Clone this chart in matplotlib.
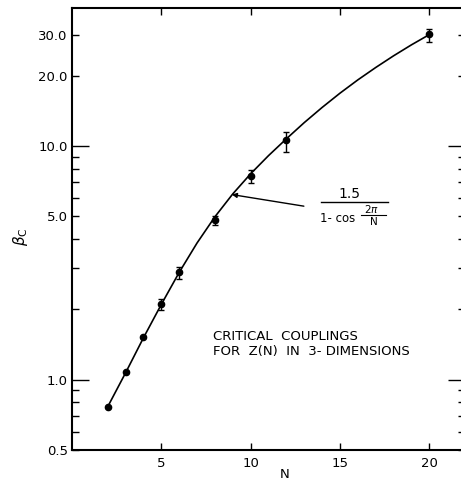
import numpy as np
import matplotlib
matplotlib.use("Agg")
import matplotlib.pyplot as plt
from matplotlib.lines import Line2D
from matplotlib.ticker import FixedLocator, FuncFormatter

plt.rcParams['font.family'] = ['DejaVu Sans']
plt.rcParams['mathtext.fontset'] = 'dejavusans'

# Data points
N_pts = [2, 3, 4, 5, 6, 8, 10, 12, 20]
beta_c = [0.766, 1.075, 1.53, 2.10, 2.88, 4.81, 7.43, 10.6, 30.2]
err_lo = [0, 0, 0, 0.11, 0.17, 0.23, 0.45, 1.15, 2.2]
err_hi = [0, 0, 0, 0.12, 0.17, 0.19, 0.46, 0.9, 1.6]

# Drawn curve (1.5 / (1 - cos 2pi/N))
curve_N = [2, 3, 4, 5, 6, 7, 8, 9, 10, 11, 12, 13, 14, 15, 16, 17, 18, 19, 20]
curve_v = [0.766, 1.070, 1.511, 2.100, 2.879, 3.847, 4.98, 6.24, 7.61, 9.10,
           10.74, 12.6, 14.63, 16.84, 19.2, 21.69, 24.34, 27.12, 30.0]

x_ticks = [5, 10, 15, 20]
y_major = [1, 10]
y_minor = [0.5, 0.6, 0.7, 0.8, 0.9, 2, 3, 4, 5, 6, 7, 8, 9, 20, 30]
y_labelled = [0.5, 1, 5, 10, 20, 30]

W, H = 461, 483
fig = plt.figure(figsize=(W / 100, H / 100), dpi=100)
ax = fig.add_axes([72 / W, 33 / H, 393 / W, 442 / H])

ax.plot(curve_N, curve_v, color='black', lw=1.2, solid_joinstyle='round')
ax.errorbar(N_pts, beta_c, yerr=[err_lo, err_hi], fmt='o', color='black',
            ms=4.5, capsize=2.5, elinewidth=1.0, capthick=1.0)

ax.set_yscale('log')
ax.set_xlim(0, 22)
ax.set_ylim(0.5, 39)

ax.xaxis.set_major_locator(FixedLocator(x_ticks))
ax.yaxis.set_major_locator(FixedLocator(y_major))
ax.yaxis.set_minor_locator(FixedLocator(y_minor))

def fmt(v, pos):
    for t in y_labelled:
        if abs(v - t) < 1e-6 * t:
            return f"{v:.1f}"
    return ""

ax.yaxis.set_major_formatter(FuncFormatter(fmt))
ax.yaxis.set_minor_formatter(FuncFormatter(fmt))
ax.xaxis.set_major_formatter(FuncFormatter(lambda v, p: f"{int(v)}"))

ax.tick_params(axis='both', which='both', direction='in', top=True, right=True,
               labelsize=9.5, width=1.0, color='black')
ax.tick_params(axis='y', which='major', length=12, pad=3)
ax.tick_params(axis='y', which='minor', length=5, pad=3)
ax.tick_params(axis='x', which='major', length=5, pad=5)
ax.tick_params(axis='x', which='minor', length=0)

for s in ax.spines.values():
    s.set_linewidth(1.5)

def px(x, y):
    return x / W, 1 - y / H

fig.text(*px(285, 475), 'N', fontsize=9.5, ha='center', va='center')
fig.text(*px(20, 237), r'$\beta_{\mathrm{C}}$', rotation=90,
         fontsize=11, ha='center', va='center')

ax.annotate('', xy=(8.95, 6.2), xytext=(12.98, 5.53),
            arrowprops=dict(arrowstyle='-|>', color='black', lw=1.0,
                            mutation_scale=7, shrinkA=0, shrinkB=0))

# formula 1.5 / (1 - cos 2pi/N)
fig.text(*px(349, 194), '1.5', fontsize=10, ha='center', va='center')
fig.add_artist(Line2D([321 / W, 388 / W], [1 - 202 / H, 1 - 202 / H],
                      color='black', lw=1.0))
fig.text(*px(320, 218), '1- cos', fontsize=8.5, ha='left', va='center')
fig.text(*px(371, 209), r'$2\pi$', fontsize=7.5, ha='center', va='center')
fig.add_artist(Line2D([361 / W, 386 / W], [1 - 215 / H, 1 - 215 / H],
                      color='black', lw=0.8))
fig.text(*px(374, 222), 'N', fontsize=7.5, ha='center', va='center')

fig.text(*px(213, 336), 'CRITICAL  COUPLINGS', fontsize=9.5,
         ha='left', va='center')
fig.text(*px(213, 351), 'FOR  Z(N)  IN  3- DIMENSIONS', fontsize=9.5,
         ha='left', va='center')

fig.savefig('out.png', dpi=100)
